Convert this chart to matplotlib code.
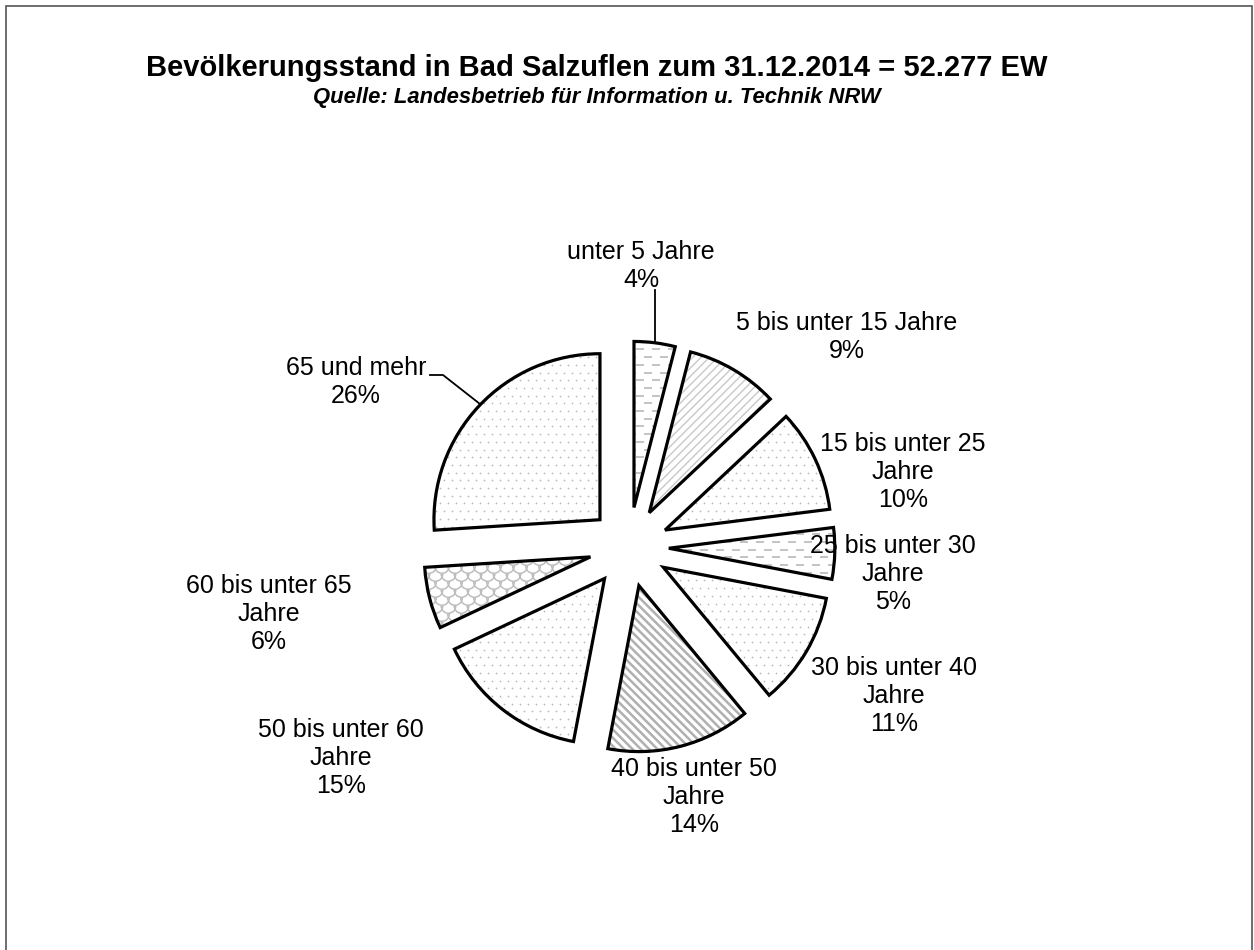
import numpy as np
import matplotlib
matplotlib.use("Agg")
import matplotlib.pyplot as plt
from matplotlib.patches import Wedge, Rectangle
from matplotlib.path import Path

plt.rcParams['font.family'] = ['Liberation Sans', 'DejaVu Sans']

# ---------------- data ----------------
categories = ["unter 5 Jahre", "5 bis unter 15 Jahre", "15 bis unter 25\nJahre",
              "25 bis unter 30\nJahre", "30 bis unter 40\nJahre", "40 bis unter 50\nJahre",
              "50 bis unter 60\nJahre", "60 bis unter 65\nJahre", "65 und mehr"]
percent = [4, 9, 10, 5, 11, 14, 15, 6, 26]
title = "Bevölkerungsstand in Bad Salzuflen zum 31.12.2014 = 52.277 EW"
subtitle = "Quelle: Landesbetrieb für Information u. Technik NRW"

# ---------------- layout / style ----------------
W, H = 1254, 950
patterns = ["dash", "diag", "dot", "dash", "dot", "diag2", "dot", "scale", "dot"]
label_pos = [(641, 266), (847, 337), (903, 472), (893, 574), (894, 696),
             (694, 797), (341, 758), (269, 614), (356, 382)]

fig = plt.figure(figsize=(W / 100, H / 100), dpi=100)
ax = fig.add_axes([0, 0, 1, 1])

cx, cy, R = 629, H - 547, 166
explode_frac = 0.24
wedges, _ = ax.pie(percent, startangle=90, counterclock=False,
                   explode=[explode_frac * R] * len(percent), radius=R, center=(cx, cy),
                   wedgeprops=dict(facecolor='white', edgecolor='black',
                                   linewidth=2.3, zorder=3))
ax.set_xlim(0, W)
ax.set_ylim(0, H)
ax.set_aspect('auto')
ax.axis('off')

for w in wedges:
    w.set_facecolor('none')

# global pattern grids
gx = np.arange(0, W, 8.0)
gy = np.arange(0, H, 7.7)

for w, pat in zip(wedges, patterns):
    base = Wedge(w.center, w.r, w.theta1, w.theta2, facecolor='white',
                 edgecolor='none', linewidth=0, zorder=1)
    ax.add_patch(base)
    (wx, wy) = w.center
    if pat == "dot":
        pts = [(x + (4 if i % 2 else 0), y) for i, y in enumerate(gy)
               for x in gx if abs(x - wx) < w.r + 10 and abs(y - wy) < w.r + 10]
        pts = np.array(pts)
        sc = ax.scatter(pts[:, 0], pts[:, 1], s=1.6, c='#b8b8b8',
                        linewidths=0, zorder=2)
        sc.set_clip_path(base)
    elif pat == "dash":
        gxd = np.arange(0, W, 16.0)
        pts = [(x + (8 if i % 2 else 0), y) for i, y in enumerate(gy)
               for x in gxd if abs(x - wx) < w.r + 20 and abs(y - wy) < w.r + 10]
        pts = np.array(pts)
        sc = ax.scatter(pts[:, 0], pts[:, 1], s=40, marker='_', c='#c4c4c4',
                        linewidths=1.4, zorder=2)
        sc.set_clip_path(base)
    elif pat == "scale":
        arc = Path.arc(180, 360)
        gxs = np.arange(0, W, 13.0)
        gys = np.arange(0, H, 8.0)
        pts = [(x + (6.5 if i % 2 else 0), y) for i, y in enumerate(gys)
               for x in gxs if abs(x - wx) < w.r + 20 and abs(y - wy) < w.r + 20]
        pts = np.array(pts)
        sc = ax.scatter(pts[:, 0], pts[:, 1], s=110, marker=arc,
                        facecolors='none', edgecolors='#bdbdbd',
                        linewidths=1.1, zorder=2)
        sc.set_clip_path(base)
    elif pat == "diag":
        plt.rcParams['hatch.linewidth'] = 1.0
        h = Wedge(w.center, w.r, w.theta1, w.theta2, facecolor='none',
                  edgecolor='#c8c8c8', linewidth=0, hatch='////', zorder=2)
        if hasattr(h, 'set_hatch_linewidth'):
            h.set_hatch_linewidth(1.0)
        ax.add_patch(h)
    elif pat == "diag2":
        plt.rcParams['hatch.linewidth'] = 1.8
        h = Wedge(w.center, w.r, w.theta1, w.theta2, facecolor='none',
                  edgecolor='#b0b0b0', linewidth=0, hatch='\\\\\\\\', zorder=2)
        if hasattr(h, 'set_hatch_linewidth'):
            h.set_hatch_linewidth(1.8)
        ax.add_patch(h)

# labels
for cat, p, (lx, ly) in zip(categories, percent, label_pos):
    ax.text(lx, H - ly, f"{cat}\n{p}%", ha='center', va='center',
            fontsize=18, linespacing=1.2, color='black', zorder=5)

# leader lines
ax.plot([655, 655], [H - 290, H - 343], color='black', lw=1.3, zorder=4)
ax.plot([430, 443, 480], [H - 375, H - 375, H - 404], color='black', lw=1.3, zorder=4)

# titles
fig.text(597 / W, 1 - 76 / H, title, ha='center', va='baseline',
         fontsize=21, fontweight='bold')
fig.text(597 / W, 1 - 103 / H, subtitle, ha='center', va='baseline',
         fontsize=15.8, fontweight='bold', fontstyle='italic')

# outer border
fig.patches.append(Rectangle((6 / W, -0.01), (1252 - 6) / W, 1 - 6 / H + 0.01,
                             transform=fig.transFigure, fill=False,
                             edgecolor='#555555', linewidth=1.2))

fig.savefig("out.png", dpi=100)
